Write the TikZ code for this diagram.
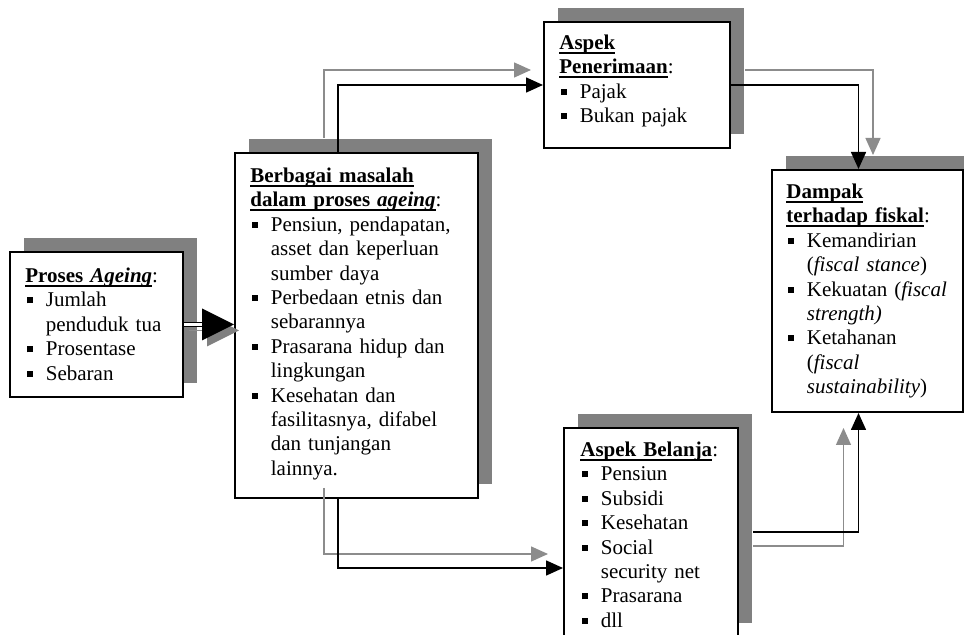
\documentclass[tikz,border=0pt]{standalone}
\usepackage{fontspec}
\setmainfont{Liberation Serif}
\usetikzlibrary{arrows.meta,calc,fit}
\definecolor{shadowgray}{RGB}{128,128,128}
\definecolor{lgray}{RGB}{140,140,140}
\newcommand\itm[1]{\par\hangindent=10.25pt\hangafter=1\noindent\makebox[10.25pt][l]{\hspace{0.7pt}\raisebox{1.7pt}{\rule{3pt}{3pt}}}#1}
\newsavebox\ulbox
\newcommand\ulx[1]{\leavevmode\sbox\ulbox{#1}\rlap{\rule[-2.1pt]{\wd\ulbox}{0.8pt}}\usebox\ulbox}
\newcommand\nl{\newline}
\tikzset{
 box/.style={draw, line width=1pt, fill=white, inner sep=0pt},
 shade/.style={fill=shadowgray, draw=none, inner sep=0pt},
 txt/.style={anchor=north west, inner sep=0pt, text width=120pt, font=\fontsize{10.5}{12.2}\selectfont},
 conn/.style={line width=0.8pt, -{Triangle[length=8.5pt,width=7.5pt]}},
 gconn/.style={conn, draw=lgray, line width=0.7pt},
 dbl/.style={double, double distance=1.2pt, line width=0.7pt},
}
\begin{document}
\begin{tikzpicture}[x=0.5pt, y=-0.5pt]
\clip (0,0) rectangle (964,635);
\fill[white] (0,0) rectangle (964,635);
% shadows
\node[shade, fit={(24,238) (197,383)}] (s1) {};
\node[shade, fit={(249,139) (492,484)}] (s2) {};
\node[shade, fit={(558,8) (744,134)}] (s3) {};
\node[shade, fit={(786,156) (977,398)}] (s4) {};
\node[shade, fit={(578,414) (752,623)}] (s5) {};
% boxes
\node[box, fit={(10,252) (183,397)}] (b1) {};
\node[box, fit={(235,153) (478,498)}] (b2) {};
\node[box, fit={(544,22) (730,148)}] (b3) {};
\node[box, fit={(772,170) (963,412)}] (b4) {};
\node[box, fit={(564,428) (738,637)}] (b5) {};
% texts
\node[txt] (t1) at ($(b1.north west)+(16,14)$) {\raggedright\strut\ulx{\textbf{Proses \textit{Ageing}}}:
\itm{Jumlah\nl penduduk tua}
\itm{Prosentase}
\itm{Sebaran}\par};
\node[txt] (t2) at ($(b2.north west)+(16,13)$) {\raggedright\strut\ulx{\textbf{Berbagai masalah}}\nl
\ulx{\textbf{dalam proses \textit{ageing}}}:
\itm{Pensiun, pendapatan,\nl asset dan keperluan\nl sumber daya}
\itm{Perbedaan etnis dan\nl sebarannya}
\itm{Prasarana hidup dan\nl lingkungan}
\itm{Kesehatan dan\nl fasilitasnya, difabel\nl dan tunjangan\nl lainnya.}\par};
\node[txt] (t3) at ($(b3.north west)+(16,11)$) {\raggedright\strut\ulx{\textbf{Aspek}}\nl\ulx{\textbf{Penerimaan}}:
\itm{Pajak}
\itm{Bukan pajak}\par};
\node[txt] (t4) at ($(b4.north west)+(15,12)$) {\raggedright\strut\ulx{\textbf{Dampak}}\nl\ulx{\textbf{terhadap fiskal}}:
\itm{Kemandirian\nl(\textit{fiscal stance})}
\itm{Kekuatan (\textit{fiscal\nl strength)}}
\itm{Ketahanan\nl(\textit{fiscal\nl sustainability})}\par};
\node[txt] (t5) at ($(b5.north west)+(17,12)$) {\raggedright\strut\ulx{\textbf{Aspek Belanja}}:
\itm{Pensiun}
\itm{Subsidi}
\itm{Kesehatan}
\itm{Social\nl security net}
\itm{Prasarana}
\itm{dll}\par};
% double arrow b1 -> b2
\coordinate (tipA) at (b2.west |- b1.east);
\draw[lgray, line width=0.75pt] ($(b1.east)+(5,6)$) -- ($(tipA)+(-27,6)$);
\fill[shadowgray] ($(tipA)+(5,6)$) -- ++(-32,-16) -- ++(0,32) -- cycle;
\draw[dbl] (b1.east) -- ($(tipA)+(-30,0)$);
\fill[black] (tipA) -- ++(-32,-16) -- ++(0,32) -- cycle;
% b2 -> b3
\draw[gconn] ($(b2.north west)+(90,-14)$) |- ($(b3.west)+(-12,-15)$);
\draw[conn] ($(b2.north west)+(104,0)$) |- (b3.west);
% b3 -> b4
\draw[gconn] ($(b3.east)+(14,-15)$) -| ($(b4.north)+(5.5,-14)$);
\draw[conn] (b3.east) -| ($(b4.north)+(-9,0)$);
% b2 -> b5
\draw[gconn] ($(b2.south west)+(90,-11)$) |- ($(b5.north west)+(-15,127)$);
\draw[conn] ($(b2.south west)+(104,0)$) |- ($(b5.north west)+(0,141)$);
% b5 -> b4
\draw[gconn] ($(b5.north east)+(14,119)$) -| ($(b4.south)+(-24,15)$);
\draw[conn] ($(b5.north east)+(14,105)$) -| ($(b4.south)+(-9,0)$);
\end{tikzpicture}
\end{document}
